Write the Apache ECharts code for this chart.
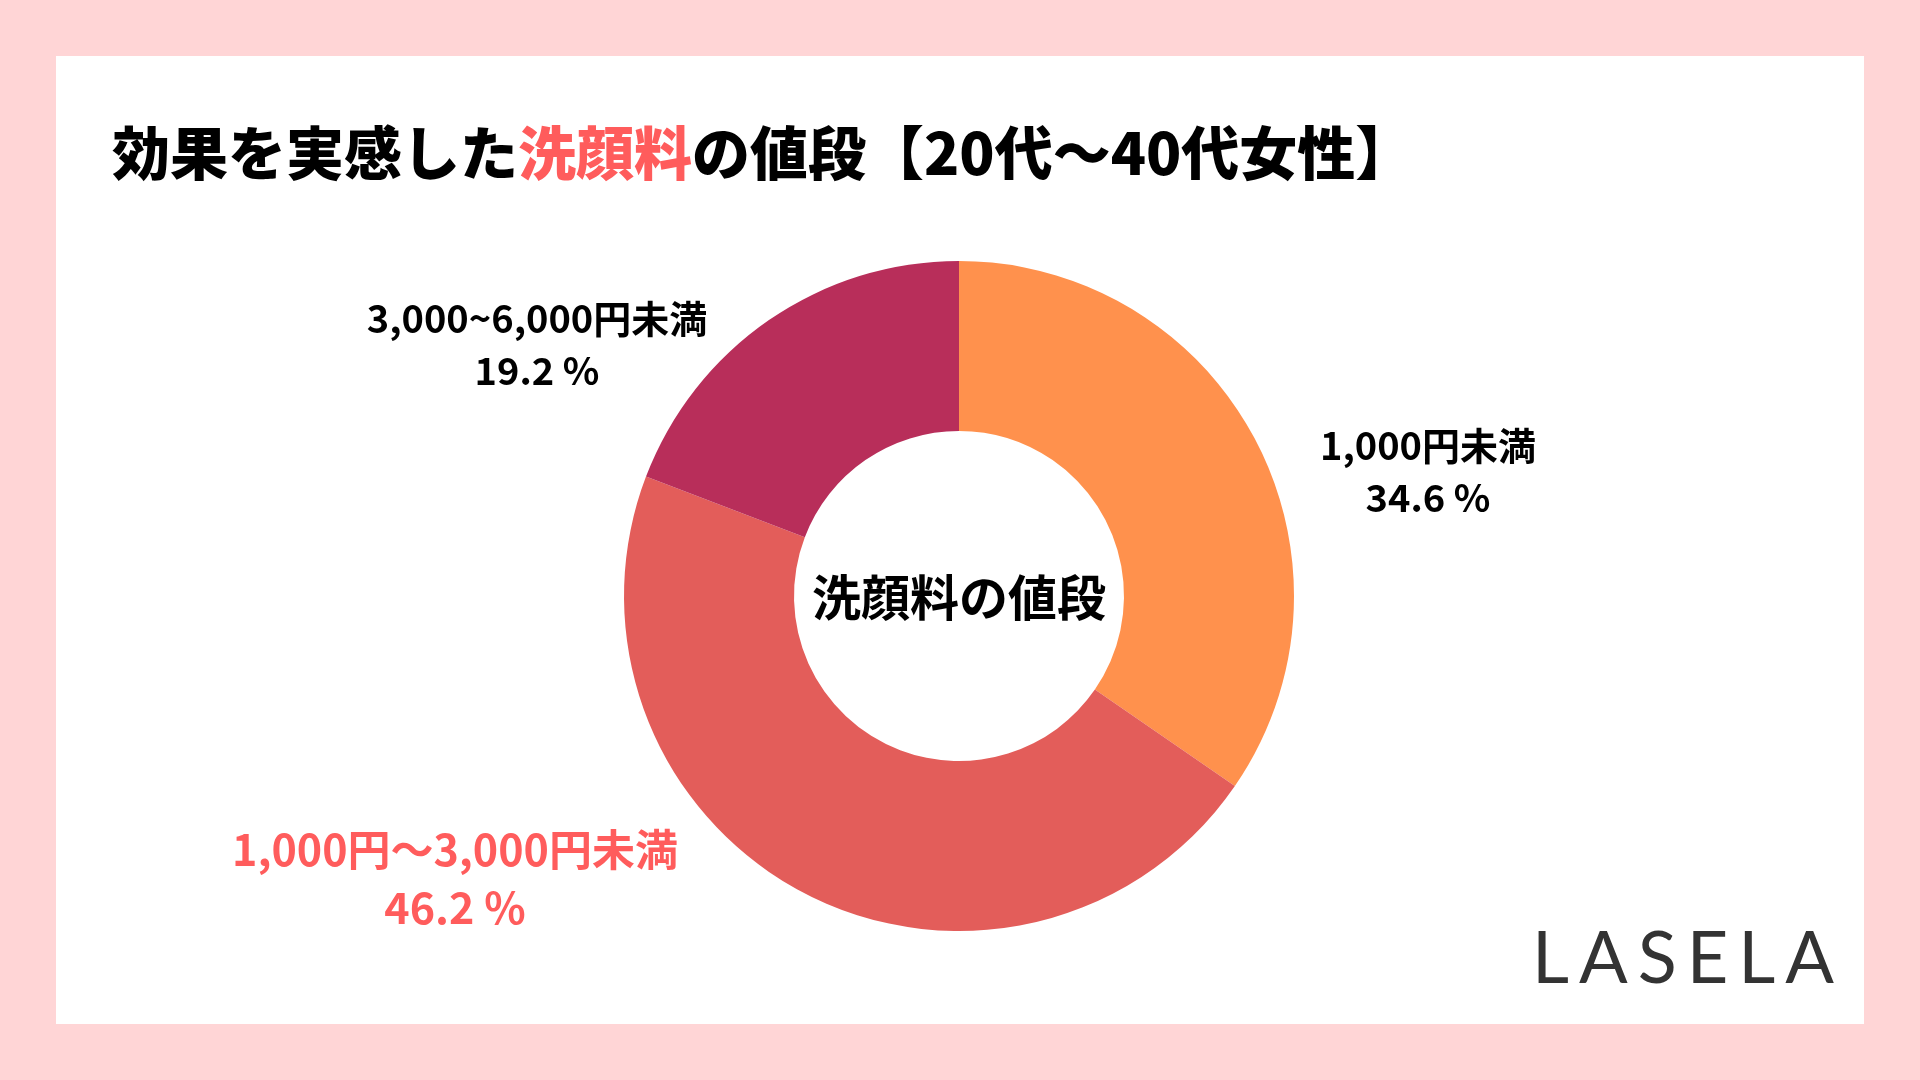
<!DOCTYPE html>
<html>
<head>
<meta charset="utf-8">
<script src="https://cdn.jsdelivr.net/npm/echarts@6/dist/echarts.min.js"></script>
<style>
html,body{margin:0;padding:0;background:#FFD5D6;}
#chart{width:1920px;height:1080px;}
</style>
</head>
<body>
<div id="chart"></div>
<script>
const categories = ['1,000円未満', '1,000円〜3,000円未満', '3,000~6,000円未満'];
const values = [34.6, 46.2, 19.2];
const sliceColors = ['#FF914D', '#E35D5A', '#B82E5A'];
const titleParts = ['効果を実感した', '洗顔料', 'の値段【20代〜40代女性】'];
const centerText = '洗顔料の値段';
const brand = 'LASELA';

// label anchor positions (layout only)
const labelPos = [[1428, 472], [455, 879], [537, 345]];
const FONT = '"Noto Sans CJK JP", "Noto Sans CJK SC", sans-serif';

const chart = echarts.init(document.getElementById('chart'), null, {renderer: 'canvas'});

const data = categories.map((c, i) => {
  const item = {name: c, value: values[i], itemStyle: {color: sliceColors[i]}};
  if (i === 1) {
    item.label = {color: '#FF5C5C', fontSize: 43, lineHeight: 58};
  }
  return item;
});

const brandRich = brand.split('').map((ch, i) => '{' + (i < brand.length - 1 ? 'g' : 'e') + '|' + ch + '}').join('');

chart.setOption({
  backgroundColor: '#FFD5D6',
  animation: false,
  graphic: [
    {type: 'rect', left: 56, top: 56, z: -10, shape: {width: 1808, height: 968}, style: {fill: '#FFFFFF'}},
    {type: 'text', left: 112, top: 124, z: 10,
      style: {
        text: '{a|' + titleParts[0] + '}{b|' + titleParts[1] + '}{a|' + titleParts[2] + '}',
        rich: {
          a: {fontSize: 58, fontWeight: 900, fontFamily: FONT, fill: '#000000'},
          b: {fontSize: 58, fontWeight: 900, fontFamily: FONT, fill: '#FF5C5C'}
        }
      }
    },
    {type: 'text', x: 959, y: 597, z: 10,
      style: {text: centerText, fontSize: 49, fontWeight: 'bold', fontFamily: FONT, fill: '#000000', align: 'center', verticalAlign: 'middle'}},
    {type: 'text', x: 1834, y: 960, z: 10,
      style: {
        text: brandRich, align: 'right', verticalAlign: 'middle',
        rich: {
          g: {fontSize: 72, fontFamily: 'Lato, "Open Sans", sans-serif', fill: '#333333', padding: [0, 10, 0, 0]},
          e: {fontSize: 72, fontFamily: 'Lato, "Open Sans", sans-serif', fill: '#333333'}
        }
      }}
  ],
  series: [{
    type: 'pie',
    center: [959, 596],
    radius: [165, 335],
    startAngle: 90,
    clockwise: true,
    silent: true,
    avoidLabelOverlap: false,
    labelLine: {show: false},
    itemStyle: {borderWidth: 0},
    label: {
      show: true,
      position: 'outside',
      fontFamily: FONT,
      fontWeight: 'bold',
      fontSize: 38,
      lineHeight: 52,
      color: '#000000',
      align: 'center',
      formatter: p => p.name + '\n' + p.value.toFixed(1) + ' %'
    },
    labelLayout: p => ({
      x: labelPos[p.dataIndex][0],
      y: labelPos[p.dataIndex][1],
      align: 'center',
      verticalAlign: 'middle'
    }),
    data: data
  }]
});
</script>
</body>
</html>
